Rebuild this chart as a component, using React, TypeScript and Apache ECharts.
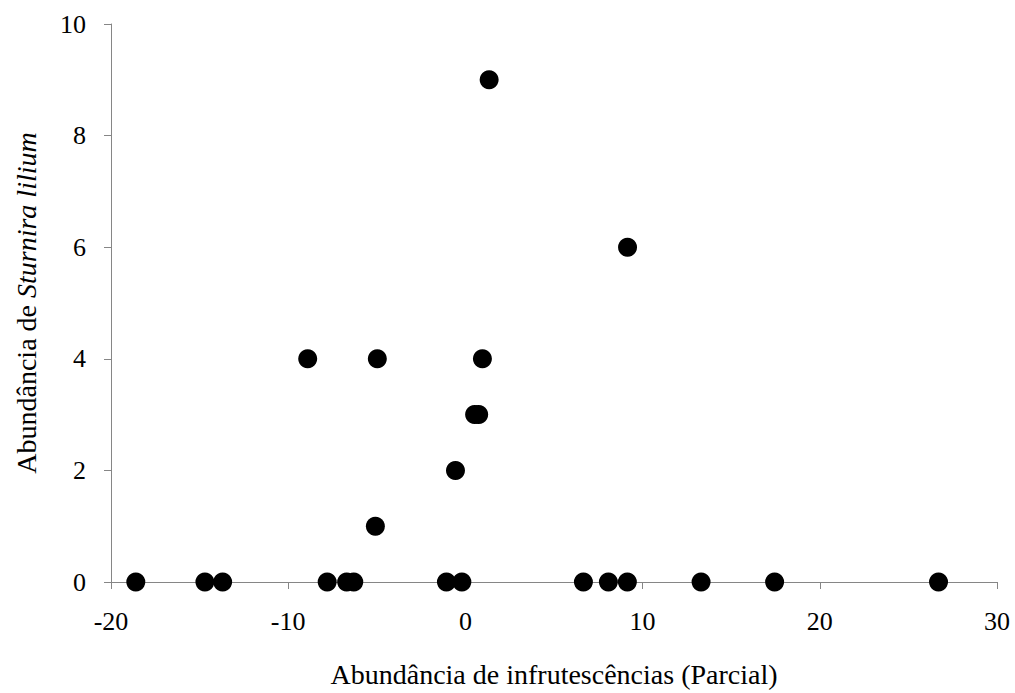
import React, { useEffect, useRef } from "react";
import * as echarts from "echarts";

const xValues: number[] = [
  -18.6, -14.7, -13.7, -7.8, -6.7, -6.3, -1.07, -0.2, 6.66, 8.07, 9.14, 13.3, 17.45, 26.7,
  -5.08, -0.56, 0.52, 0.75, -8.9, -4.97, 0.96, 9.15, 1.34,
];
const yValues: number[] = [
  0, 0, 0, 0, 0, 0, 0, 0, 0, 0, 0, 0, 0, 0,
  1, 2, 3, 3, 4, 4, 4, 6, 9,
];
const xTitle = "Abundância de infrutescências (Parcial)";
const yTitlePlain = "Abundância de ";
const yTitleItalic = "Sturnira lilium";

const FONT = "'Liberation Serif', 'Times New Roman', serif";

export default function App() {
  const ref = useRef<HTMLDivElement>(null);
  useEffect(() => {
    if (!ref.current) return;
    const chart = echarts.init(ref.current, null, { renderer: "svg" });
    const axisColor = "#868686";
    chart.setOption({
      animation: false,
      backgroundColor: "#ffffff",
      grid: { left: 111, top: 24, width: 886, height: 560, containLabel: false },
      xAxis: {
        type: "value",
        min: -20,
        max: 30,
        interval: 10,
        name: xTitle,
        nameLocation: "middle",
        nameGap: 78,
        nameTextStyle: { fontFamily: FONT, fontSize: 28, color: "#000" },
        axisLine: { show: true, onZero: false, lineStyle: { color: axisColor, width: 1 } },
        axisTick: { show: true, inside: false, length: 7, lineStyle: { color: axisColor } },
        axisLabel: { fontFamily: FONT, fontSize: 26, color: "#000", margin: 26 },
        splitLine: { show: false },
      },
      yAxis: {
        type: "value",
        min: 0,
        max: 10,
        interval: 2,
        name: `{a|${yTitlePlain}}{b|${yTitleItalic}}`,
        nameLocation: "middle",
        nameRotate: 90,
        nameGap: 71,
        nameTextStyle: {
          fontFamily: FONT,
          fontSize: 28,
          color: "#000",
          rich: {
            a: { fontFamily: FONT, fontSize: 28, color: "#000" },
            b: { fontFamily: FONT, fontSize: 28, color: "#000", fontStyle: "italic" },
          },
        },
        axisLine: { show: true, onZero: false, lineStyle: { color: axisColor, width: 1 } },
        axisTick: { show: true, inside: false, length: 7, lineStyle: { color: axisColor } },
        axisLabel: { fontFamily: FONT, fontSize: 26, color: "#000", margin: 25 },
        splitLine: { show: false },
      },
      series: [
        {
          type: "scatter",
          data: xValues.map((x, i) => [x, yValues[i]]),
          symbol: "circle",
          symbolSize: 19,
          itemStyle: { color: "#000000", opacity: 1 },
          clip: false,
        },
      ],
    });
    return () => chart.dispose();
  }, []);
  return <div ref={ref} style={{ width: 1015, height: 693, position: "absolute", left: 0, top: 0 }} />;
}
